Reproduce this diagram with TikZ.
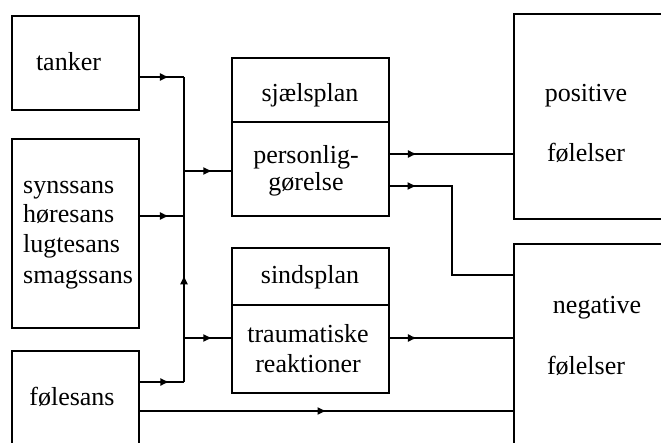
\documentclass[tikz,border=0pt]{standalone}
\usepackage{fontspec}
\setmainfont{Liberation Serif}
\usetikzlibrary{arrows.meta,decorations.markings,fit}
\tikzset{
  box/.style={draw, line width=1.6pt, inner sep=0pt, fit={#1}},
  lbl/.style={anchor=base, inner sep=0pt, font=\fontsize{26}{30}\selectfont},
  lbll/.style={anchor=base west, inner sep=0pt, font=\fontsize{26}{30}\selectfont},
  conn/.style={line width=1.4pt},
  midarrow/.style={conn, postaction={decorate}, decoration={markings,
     mark=at position #1 with {\arrow[line width=1.4pt]{Latex[length=9pt,width=8pt]}}}}
}
\begin{document}
\begin{tikzpicture}[x=1pt,y=-1pt]
\useasboundingbox (0,0) rectangle (661,442);
\clip (0,0) rectangle (661,442);
\fill[white] (0,0) rectangle (661,442);
% boxes
\node[box={(12,16) (139,110)}] (tanker) {};
\node[box={(12,139) (139,328)}] (senses) {};
\node[box={(12,351) (139,480)}] (foele) {};
\node[box={(232,58) (389,216)}] (sjael) {};
\node[box={(232,248) (389,393)}] (sinds) {};
\node[box={(514,14) (700,219)}] (pos) {};
\node[box={(514,244) (700,480)}] (neg) {};
% dividers
\coordinate (d1) at (0,122);
\coordinate (d2) at (0,305);
\draw[line width=1.6pt] (sjael.west |- d1) -- (sjael.east |- d1);
\draw[line width=2.4pt] (sinds.west |- d2) -- (sinds.east |- d2);
% texts
\node[lbl] (t1) at (68.5,70) {tanker};
\node[lbll] (t2) at (23,193) {synssans};
\node[lbll] (t3) at (23,222.5) {høresans};
\node[lbll] (t4) at (23,252.5) {lugtesans};
\node[lbll] (t5) at (23,283) {smagssans};
\node[lbl] (t6) at (72,405) {følesans};
\node[lbl] (t7) at (310,101) {sjælsplan};
\node[lbl] (t8) at (306,163) {personlig-};
\node[lbl] (t9) at (306,190) {gørelse};
\node[lbl] (t10) at (310,283) {sindsplan};
\node[lbl] (t11) at (308,342) {traumatiske};
\node[lbl] (t12) at (308,372) {reaktioner};
\node[lbl] (t13) at (586,101) {positive};
\node[lbl] (t14) at (586,161) {følelser};
\node[lbl] (t15) at (597,313) {negative};
\node[lbl] (t16) at (586,374) {følelser};
% junctions
\coordinate (j1) at (184,77);
\coordinate (j2) at (184,216);
\coordinate (j3) at (184,382);
\coordinate (j4) at (184,171);
\coordinate (j5) at (184,338);
\coordinate (p1) at (0,154);
\coordinate (p2) at (452,186);
\coordinate (p3) at (452,275);
\coordinate (p4) at (0,411);
% connectors
\draw[midarrow=0.66] (j1 -| tanker.east) -- (j1);
\draw[midarrow=0.66] (j2 -| senses.east) -- (j2);
\draw[midarrow=0.67] (j3 -| foele.east) -- (j3);
\draw[midarrow=0.35] (j3) -- (j1);
\draw[midarrow=0.6] (j4) -- (j4 -| sjael.west);
\draw[midarrow=0.6] (j5) -- (j5 -| sinds.west);
\draw[midarrow=0.22] (p1 -| sjael.east) -- (p1 -| pos.west);
\draw[midarrow=0.126] (p2 -| sjael.east) -- (p2) -- (p3) -- (p3 -| neg.west);
\draw[midarrow=0.22] (j5 -| sinds.east) -- (j5 -| neg.west);
\draw[midarrow=0.5] (p4 -| foele.east) -- (p4 -| neg.west);
\end{tikzpicture}
\end{document}
